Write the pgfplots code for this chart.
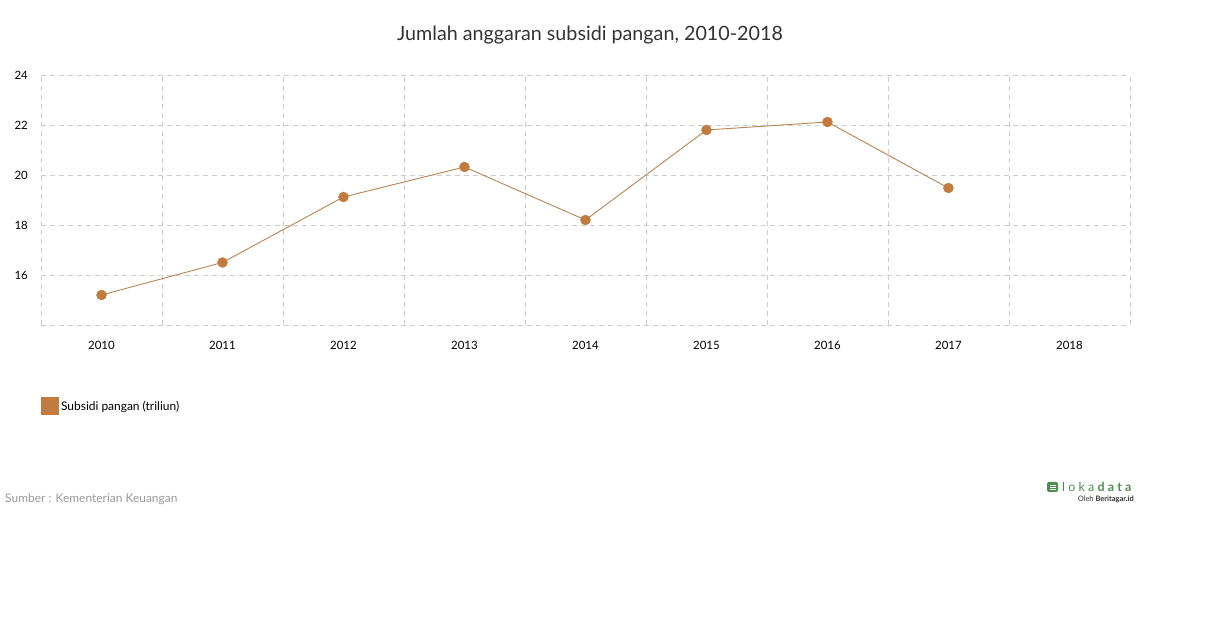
\documentclass[border=0pt]{standalone}
\usepackage{pgfplots}
\pgfplotsset{compat=1.18}
\usepackage{fontspec}
\setmainfont{Lato}
\definecolor{brn}{HTML}{C17B3F}
\definecolor{brnline}{HTML}{B98452}
\definecolor{gridc}{HTML}{CCCCCC}
\definecolor{txt}{HTML}{333333}
\definecolor{src}{HTML}{999999}
\definecolor{logog}{HTML}{4F8D4F}
\begin{document}
\begin{tikzpicture}[x=1bp,y=1bp]
\path[use as bounding box] (0,0) rectangle (1210,628);
\begin{axis}[
  at={(41bp,303bp)}, anchor=south west,
  scale only axis, width=1089bp, height=250bp,
  xmin=-0.5, xmax=8.5, ymin=14, ymax=24,
  axis line style={draw=none},
  xtick={0,1,2,3,4,5,6,7,8},
  xticklabels={2010,2011,2012,2013,2014,2015,2016,2017,2018},
  minor xtick={-0.5,0.5,1.5,2.5,3.5,4.5,5.5,6.5,7.5,8.5},
  ytick={14,16,18,20,22,24},
  yticklabels={,16,18,20,22,24},
  xmajorgrids=false, xminorgrids=true, ymajorgrids=true,
  major grid style={gridc, dash pattern=on 5bp off 4bp, line width=0.8bp},
  minor grid style={gridc, dash pattern=on 5bp off 4bp, line width=0.8bp},
  major tick length=0pt, minor tick length=0pt,
  tick style={draw=none},
  /pgf/number format/assume math mode=true,
  ticklabel style={font=\fontsize{11.5}{13}\selectfont, text=black, inner sep=0pt},
  xticklabel style={anchor=north, yshift=-16bp},
  yticklabel style={anchor=east, xshift=-13bp},
  legend style={at={(rel axis cs:0,-0.288)}, anchor=north west, draw=none, fill=none,
    inner sep=0pt, font=\fontsize{12}{14}\selectfont, text=black,
    legend cell align=left, nodes={inner sep=2pt}},
  legend image code/.code={\fill[brn] (0bp,-8.5bp) rectangle (17bp,8.5bp);},
  clip=false,
]
\addplot[brnline, line width=0.9bp, mark=*, mark size=5bp, mark options={solid, fill=brn, draw=brn, line width=0.4bp}]
  coordinates {(0,15.2) (1,16.5) (2,19.12) (3,20.32) (4,18.2) (5,21.8) (6,22.12) (7,19.48)};
\addlegendentry{Subsidi pangan (triliun)}
\end{axis}
\node[text=txt, font=\fontsize{19.8}{24}\selectfont] at (590,593) {Jumlah anggaran subsidi pangan, 2010-2018};
\node[text=src, font=\fontsize{12}{14}\selectfont, anchor=west, inner sep=0pt] at (5,129) {Sumber : Kementerian Keuangan};
\fill[logog, rounded corners=2bp] (1047,136) rectangle (1058,146);
\draw[white, line width=0.8bp] (1049.5,143) -- (1055.5,143) (1049.5,141) -- (1055.5,141) (1049.5,139) -- (1055.5,139);
\node[text=logog, font=\fontsize{12.5}{14}\selectfont, anchor=west, inner sep=0pt] at (1062,141) {l\hspace{3.2bp}o\hspace{3.2bp}k\hspace{3.2bp}a\hspace{3.2bp}\textbf{d\hspace{3.2bp}a\hspace{3.2bp}t\hspace{3.2bp}a}};
\node[text=txt, font=\fontsize{7.5}{9}\selectfont, anchor=east, inner sep=0pt] at (1134,129) {Oleh \textbf{Beritagar.id}};
\end{tikzpicture}
\end{document}
